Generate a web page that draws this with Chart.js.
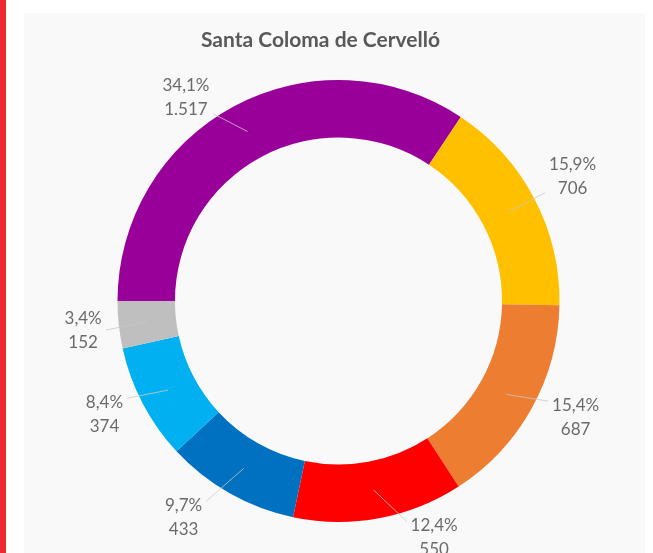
<!DOCTYPE html>
<html>
<head>
<meta charset="utf-8">
<script src="https://cdn.jsdelivr.net/npm/chart.js@4.4.1/dist/chart.umd.min.js"></script>
<style>
  html, body { margin: 0; padding: 0; background: #fff; width: 653px; height: 553px; overflow: hidden; }
  .bar { position: absolute; left: 0; top: 0; width: 6px; height: 553px; background: #ec2a2f; }
  .panel { position: absolute; left: 24px; top: 13px; width: 621px; height: 540px; background: #f9f9f9; }
  #myChart { position: absolute; left: 0; top: 0; }
</style>
</head>
<body>
<div class="bar"></div>
<div class="panel"></div>
<canvas id="myChart" width="653" height="553"></canvas>
<script>
// values, clockwise from 9 o'clock
var chartTitle = 'Santa Coloma de Cervelló';
var categories = ['Lila', 'Groc', 'Taronja', 'Vermell', 'Blau fosc', 'Blau clar', 'Gris'];
var votes = [1517, 706, 687, 550, 433, 374, 152];
var pctLabels = ['34,1%', '15,9%', '15,4%', '12,4%', '9,7%', '8,4%', '3,4%'];
var colors = ['#990099', '#FFC000', '#ED7D31', '#FF0000', '#0070C0', '#00B0F0', '#BFBFBF'];

// label placement: distance past the outer edge and angle shift (deg)
var labelGap = [33, 44, 43, 34, 45, 39, 36];
var labelTurn = [-8.7, -0.3, -3, -11.5, 6.1, 1.8, -0.3];

function fmt(n) {
  return n.toString().replace(/\B(?=(\d{3})+(?!\d))/g, '.');
}

var outsideLabels = {
  id: 'outsideLabels',
  afterDraw: function(chart) {
    var ctx = chart.ctx;
    var area = chart.chartArea;
    var meta = chart.getDatasetMeta(0);
    ctx.save();

    // title
    ctx.font = 'bold 21px Lato';
    ctx.fillStyle = '#595959';
    ctx.textAlign = 'center';
    ctx.textBaseline = 'middle';
    ctx.fillText(chartTitle, (area.left + area.right) / 2 - 18, area.top - 40);

    ctx.font = '17px Lato';
    meta.data.forEach(function(arc, i) {
      var p = arc.getProps(['x', 'y', 'startAngle', 'endAngle', 'outerRadius', 'innerRadius'], true);
      var mid = (p.startAngle + p.endAngle) / 2;
      var a = mid + labelTurn[i] * Math.PI / 180;
      var d = p.outerRadius + labelGap[i];
      var lx = p.x + Math.cos(a) * d;
      var ly = p.y + Math.sin(a) * d;
      var line1 = pctLabels[i], line2 = fmt(votes[i]);
      var w = Math.max(ctx.measureText(line1).width, ctx.measureText(line2).width);
      var h = 44;

      // leader line to the middle of the ring
      var rm = (p.outerRadius + p.innerRadius) / 2;
      var ax = p.x + Math.cos(mid) * rm;
      var ay = p.y + Math.sin(mid) * rm;
      var sx = lx, sy = ly;
      if (ax < lx - w / 2) sx = lx - w / 2 - 4;
      else if (ax > lx + w / 2) sx = lx + w / 2 + 4;
      if (ay < ly - h / 2) sy = ly - h / 2 + 6;
      else if (ay > ly + h / 2) sy = ly + h / 2 - 6;
      ctx.strokeStyle = 'rgba(200,200,200,0.8)';
      ctx.lineWidth = 1;
      ctx.beginPath();
      ctx.moveTo(sx, sy);
      ctx.lineTo(ax, ay);
      ctx.stroke();

      ctx.fillStyle = '#6b6b6b';
      ctx.fillText(line1, lx, ly - 12);
      ctx.fillText(line2, lx, ly + 12);
    });
    ctx.restore();
  }
};

var ctx = document.getElementById('myChart').getContext('2d');
var chart = new Chart(ctx, {
  type: 'doughnut',
  data: {
    labels: categories,
    datasets: [{
      data: votes,
      backgroundColor: colors,
      borderWidth: 0
    }]
  },
  options: {
    responsive: false,
    animation: false,
    rotation: -90,
    cutout: '74%',
    layout: { padding: { left: 117.5, right: 93.5, top: 80, bottom: 31 } },
    plugins: {
      legend: { display: false },
      tooltip: { enabled: false },
      title: { display: false }
    }
  },
  plugins: [outsideLabels]
});
</script>
</body>
</html>
